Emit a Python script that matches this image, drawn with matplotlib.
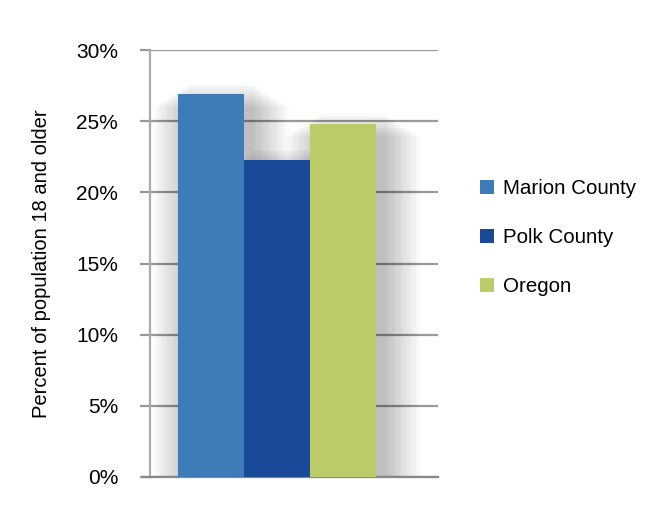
import matplotlib
matplotlib.use("Agg")
import matplotlib.pyplot as plt
from matplotlib.ticker import FuncFormatter

categories = ["Marion County", "Polk County", "Oregon"]
values = [26.9, 22.3, 24.8]
colors = ["#3d7bb9", "#1a4a97", "#bccc6b"]
yticks = [0, 5, 10, 15, 20, 25, 30]

plt.rcParams['font.family'] = ['Liberation Sans', 'DejaVu Sans']

fig = plt.figure(figsize=(6.47, 5.27), dpi=100)
ax = fig.add_axes([150/647, 1-477/527, (438-150)/647, (477-50)/527])

x = list(range(len(categories)))

# soft shadow behind bars
nsh = 16
for k in range(nsh):
    grow = 0.035 * k
    ax.bar([xi + 0.15 for xi in x], [v + 0.7 - grow*3 for v in values], width=1.0 + grow*2,
           bottom=0, color="black", alpha=0.016, zorder=1, linewidth=0, align='center')

for xi, v, c, lab in zip(x, values, colors, categories):
    ax.bar(xi, v, width=1.0, color=c, zorder=3, label=lab, linewidth=0)

ax.set_xlim(-0.924, 3.44)
ax.set_ylim(0, 30)
ax.set_yticks(yticks)
ax.yaxis.set_major_formatter(FuncFormatter(lambda v, p: f"{int(v)}%"))
ax.grid(axis='y', color="#999999", linewidth=1.6, zorder=0)
ax.set_axisbelow(True)
ax.set_xticks([])
for s in ["top", "right"]:
    ax.spines[s].set_visible(False)
ax.spines["left"].set_color("#aaaaaa")
ax.spines["left"].set_linewidth(1.6)
ax.spines["bottom"].set_color("#888888")
ax.spines["bottom"].set_linewidth(1.6)
ax.spines["bottom"].set_bounds(-0.924 - 7/66, 3.44)
ax.tick_params(axis='y', length=7, width=1.6, color="#999999", pad=16, labelsize=15)
ax.set_ylabel("Percent of population 18 and older", fontsize=14.5, labelpad=18)

leg = ax.legend(loc="upper left", bbox_to_anchor=(461/647, 1-161/527), bbox_transform=fig.transFigure,
                frameon=False, fontsize=14.8, handlelength=0.7, handleheight=0.7,
                handletextpad=0.45, labelspacing=1.45)

fig.savefig("out.png", dpi=100)
